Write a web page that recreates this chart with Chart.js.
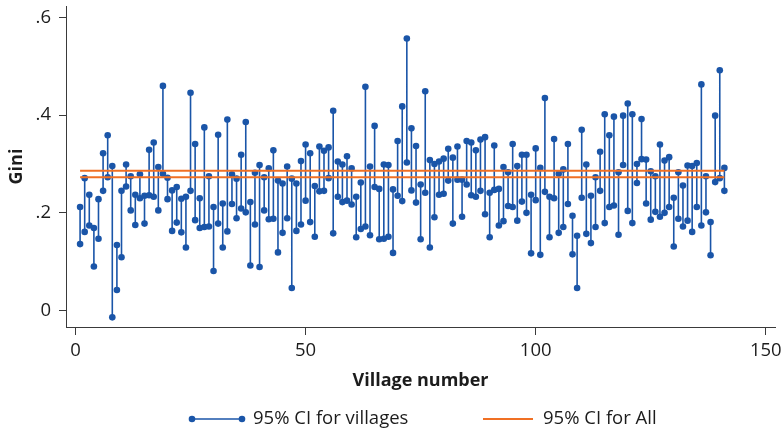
<!DOCTYPE html>
<html>
<head>
<meta charset="utf-8">
<script src="https://cdn.jsdelivr.net/npm/chart.js@4"></script>
<style>
  html, body { margin: 0; padding: 0; background: #fff; }
  #wrap { width: 783px; height: 432px; }
</style>
</head>
<body>
<div id="wrap"><canvas id="gini-chart" width="783" height="432"></canvas></div>
<script>
// 95% confidence interval of the Gini coefficient, villages 1..141
const ciLow = [
  .136, .161, .174, .090, .147, .245, .273, -.014, .042, .109,
  .254, .205, .175, .230, .178, .236, .233, .205, .280, .228,
  .163, .180, .160, .129, .245, .185, .169, .171, .172, .081,
  .178, .129, .162, .218, .189, .209, .201, .092, .176, .089,
  .205, .187, .188, .119, .159, .189, .046, .163, .176, .225,
  .181, .151, .244, .245, .271, .158, .233, .222, .225, .217,
  .150, .167, .172, .154, .253, .146, .147, .151, .118, .235,
  .224, .303, .246, .221, .146, .241, .129, .191, .237, .239,
  .266, .178, .268, .192, .258, .236, .233, .245, .197, .150,
  .247, .174, .183, .214, .212, .184, .223, .200, .117, .226,
  .114, .243, .150, .230, .159, .171, .218, .115, .046, .231,
  .157, .138, .171, .245, .179, .212, .215, .155, .298, .204,
  .179, .261, .310, .219, .186, .202, .192, .200, .212, .131,
  .188, .172, .184, .161, .212, .174, .201, .113, .263, .271,
  .245
];
const ciHigh = [
  .212, .271, .237, .169, .228, .322, .359, .296, .134, .245,
  .299, .275, .237, .279, .235, .329, .344, .294, .460, .272,
  .246, .253, .229, .233, .446, .341, .230, .375, .275, .212,
  .360, .219, .391, .279, .270, .319, .386, .222, .282, .298,
  .273, .291, .328, .266, .260, .295, .270, .260, .306, .340,
  .322, .255, .336, .327, .334, .409, .305, .299, .316, .291,
  .233, .262, .458, .295, .378, .249, .299, .298, .248, .347,
  .418, .557, .373, .337, .258, .449, .308, .300, .305, .311,
  .331, .313, .336, .268, .347, .344, .328, .350, .355, .241,
  .338, .249, .294, .283, .341, .296, .319, .319, .237, .332,
  .292, .435, .233, .351, .280, .289, .341, .194, .153, .370,
  .299, .235, .273, .325, .402, .359, .397, .283, .399, .424,
  .402, .300, .392, .309, .285, .275, .340, .307, .314, .231,
  .283, .256, .297, .296, .302, .463, .275, .181, .399, .492,
  .292
];
// 95% CI for all villages pooled
const allCI = [0.273, 0.286];
const allSpan = [1, 141];

const xTickVals = [0, 50, 100, 150];
const yTickVals = [0, 0.2, 0.4, 0.6];
const yTickLabels = ['0', '.2', '.4', '.6'];

const BLUE = '#1a55a8';
const ORANGE = '#f07024';
const INK = '#1c1c1c';
const FONT = "'Open Sans', sans-serif";

// stems: low/high pairs separated by a null point so the line breaks
const stemPoints = [];
ciLow.forEach((lo, i) => {
    const v = i + 1;
    stemPoints.push({ x: v, y: lo }, { x: v, y: ciHigh[i] }, { x: v, y: null });
});

const allLines = allCI.map(v => allSpan.map(x => ({ x: x, y: v })));

// Legend drawn under the plot, Stata style.
const bottomLegend = {
    id: 'bottomLegend',
    afterDraw(chart) {
        const ctx = chart.ctx;
        const y = 419;
        ctx.save();
        ctx.font = '18.5px ' + FONT;
        ctx.textBaseline = 'middle';
        ctx.fillStyle = INK;

        // villages
        ctx.strokeStyle = BLUE;
        ctx.lineWidth = 1.6;
        ctx.beginPath(); ctx.moveTo(192, y); ctx.lineTo(242, y); ctx.stroke();
        ctx.fillStyle = BLUE;
        [192, 242].forEach(px => { ctx.beginPath(); ctx.arc(px, y, 3.3, 0, Math.PI * 2); ctx.fill(); });
        ctx.fillStyle = INK;
        ctx.fillText(chart.data.datasets[0].label, 253, y);

        // all
        ctx.strokeStyle = ORANGE;
        ctx.lineWidth = 2;
        ctx.beginPath(); ctx.moveTo(483, y); ctx.lineTo(533, y); ctx.stroke();
        ctx.fillText(chart.data.datasets[1].label, 543, y);
        ctx.restore();
    }
};

new Chart(document.getElementById('gini-chart'), {
    type: 'line',
    data: {
        datasets: [{
            label: '95% CI for villages',
            data: stemPoints,
            borderColor: BLUE,
            borderWidth: 1.6,
            pointRadius: 3.3,
            pointBackgroundColor: BLUE,
            pointBorderColor: BLUE,
            pointBorderWidth: 0,
            spanGaps: false,
            order: 2
        }, {
            label: '95% CI for All',
            data: allLines[0],
            borderColor: ORANGE,
            borderWidth: 2,
            pointRadius: 0,
            order: 1
        }, {
            label: '95% CI for All (upper)',
            data: allLines[1],
            borderColor: ORANGE,
            borderWidth: 2,
            pointRadius: 0,
            order: 1
        }]
    },
    options: {
        responsive: false,
        animation: false,
        devicePixelRatio: 1,
        layout: { padding: { left: 0, right: 8, top: 6, bottom: 40 } },
        plugins: {
            legend: { display: false },
            tooltip: { enabled: false }
        },
        scales: {
            x: {
                type: 'linear',
                min: -2.06,
                max: 152,
                afterBuildTicks: s => { s.ticks = xTickVals.map(v => ({ value: v })); },
                afterFit: s => { s.height = 65; s.paddingLeft = 0; s.paddingRight = 0; },
                border: { display: true, color: '#3a3a3a', width: 1 },
                grid: { display: true, drawOnChartArea: false, tickLength: 8, color: '#3a3a3a' },
                ticks: {
                    padding: 5,
                    maxRotation: 0,
                    color: INK,
                    font: { family: FONT, size: 18.5 }
                },
                title: {
                    display: true,
                    text: 'Village number',
                    color: INK,
                    padding: { top: 0, bottom: 0 },
                    font: { family: FONT, size: 18, weight: 'bold' }
                }
            },
            y: {
                min: -0.0338,
                max: 0.6236,
                afterBuildTicks: s => { s.ticks = yTickVals.map(v => ({ value: v })); },
                afterFit: s => { s.width = 66; s.paddingTop = 0; s.paddingBottom = 0; },
                border: { display: true, color: '#3a3a3a', width: 1 },
                grid: { display: true, drawOnChartArea: false, tickLength: 7, color: '#3a3a3a' },
                ticks: {
                    padding: 8,
                    color: INK,
                    font: { family: FONT, size: 18.5 },
                    callback: v => yTickLabels[yTickVals.indexOf(v)]
                },
                title: {
                    display: true,
                    text: 'Gini',
                    color: INK,
                    padding: { top: 6, bottom: 0 },
                    font: { family: FONT, size: 18, weight: 'bold' }
                }
            }
        }
    },
    plugins: [bottomLegend]
});
</script>
</body>
</html>
